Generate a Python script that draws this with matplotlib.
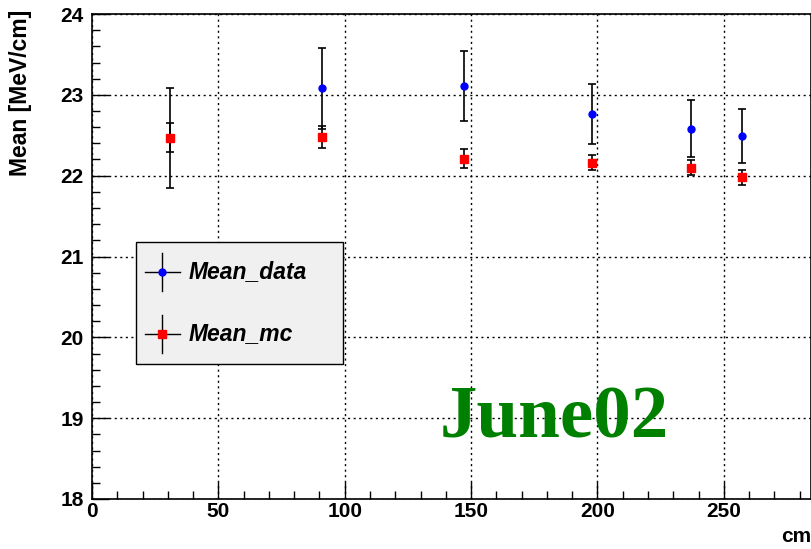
import matplotlib
matplotlib.use("Agg")
import matplotlib.pyplot as plt
from matplotlib.patches import Rectangle
from matplotlib.lines import Line2D
from matplotlib.ticker import MultipleLocator

# Track position along the detector (cm)
positions = [31, 91, 147, 198, 237, 257]

# Mean energy loss per unit length, data vs simulation
mean_data = [22.47, 23.08, 23.11, 22.76, 22.58, 22.49]
err_data = [0.62, 0.50, 0.43, 0.37, 0.35, 0.33]
mean_mc = [22.47, 22.48, 22.21, 22.16, 22.10, 21.98]
err_mc = [0.18, 0.135, 0.115, 0.095, 0.09, 0.09]

series_labels = ["Mean_data", "Mean_mc"]
x_title = "cm"
y_title = "Mean [MeV/cm]"
tag = "June02"

plt.rcParams["font.family"] = ["Liberation Sans", "DejaVu Sans"]

fig = plt.figure(figsize=(8.12, 5.49), dpi=100)
W, H = 812, 549
ax = fig.add_axes([92 / W, 50 / H, (811 - 92) / W, (499 - 14) / H])

ax.errorbar(positions, mean_data, yerr=err_data, fmt="o", color="blue",
            ecolor="black", elinewidth=1.2, capsize=3, capthick=1.2,
            markersize=5, zorder=3)
ax.errorbar(positions, mean_mc, yerr=err_mc, fmt="s", color="red",
            ecolor="black", elinewidth=1.2, capsize=3, capthick=1.2,
            markersize=6, zorder=4)

ax.set_xlim(0, 284.5)
ax.set_ylim(18, 24)
ax.xaxis.set_major_locator(MultipleLocator(50))
ax.xaxis.set_minor_locator(MultipleLocator(10))
ax.yaxis.set_major_locator(MultipleLocator(1))
ax.yaxis.set_minor_locator(MultipleLocator(0.2))
ax.tick_params(which="both", direction="in", top=False, right=False,
               labelsize=15, width=1)
ax.tick_params(which="major", length=12)
ax.tick_params(which="minor", length=6)
for lbl in ax.get_xticklabels() + ax.get_yticklabels():
    lbl.set_fontweight("bold")
ax.tick_params(axis="x", pad=2)
ax.tick_params(axis="y", pad=6)

ax.grid(True, which="major", color="black", linestyle=(0, (1.5, 2.5)),
        linewidth=1.0)
for s in ax.spines.values():
    s.set_linewidth(1.2)


def fx(px):
    return px / W


def fy(py):
    return 1 - py / H


# Axis titles placed at the far ends of the axes
fig.text(fx(21), fy(10), y_title, ha="center", va="top", rotation=90,
         fontsize=16.5, fontweight="bold")
fig.text(fx(811), fy(537), x_title, ha="right", va="center",
         fontsize=15, fontweight="bold")

# Legend box drawn in figure pixels
fig.patches.append(Rectangle((fx(136), fy(364)), fx(343) - fx(136),
                             fy(242) - fy(364), transform=fig.transFigure,
                             facecolor="#f0f0f0", edgecolor="black",
                             linewidth=1.0, zorder=5))
for py, col, mk, ms, lab in [(272, "blue", "o", 5, series_labels[0]),
                             (334, "red", "s", 6, series_labels[1])]:
    fig.lines.append(Line2D([fx(145), fx(180)], [fy(py), fy(py)],
                            transform=fig.transFigure, color="black",
                            linewidth=1.0, zorder=6))
    fig.lines.append(Line2D([fx(162), fx(162)], [fy(py - 19), fy(py + 19)],
                            transform=fig.transFigure, color="black",
                            linewidth=1.0, zorder=6))
    fig.lines.append(Line2D([fx(162)], [fy(py)], transform=fig.transFigure,
                            marker=mk, color=col, markersize=ms,
                            linestyle="none", zorder=7))
    fig.text(fx(189), fy(py), lab, ha="left", va="center", fontsize=16.5,
             fontweight="bold", fontstyle="italic", zorder=7)

fig.text(fx(440), fy(437), tag, ha="left", va="baseline", color="green",
         fontsize=54, fontweight="bold", family="Liberation Serif")

fig.savefig("out.png", dpi=100)
